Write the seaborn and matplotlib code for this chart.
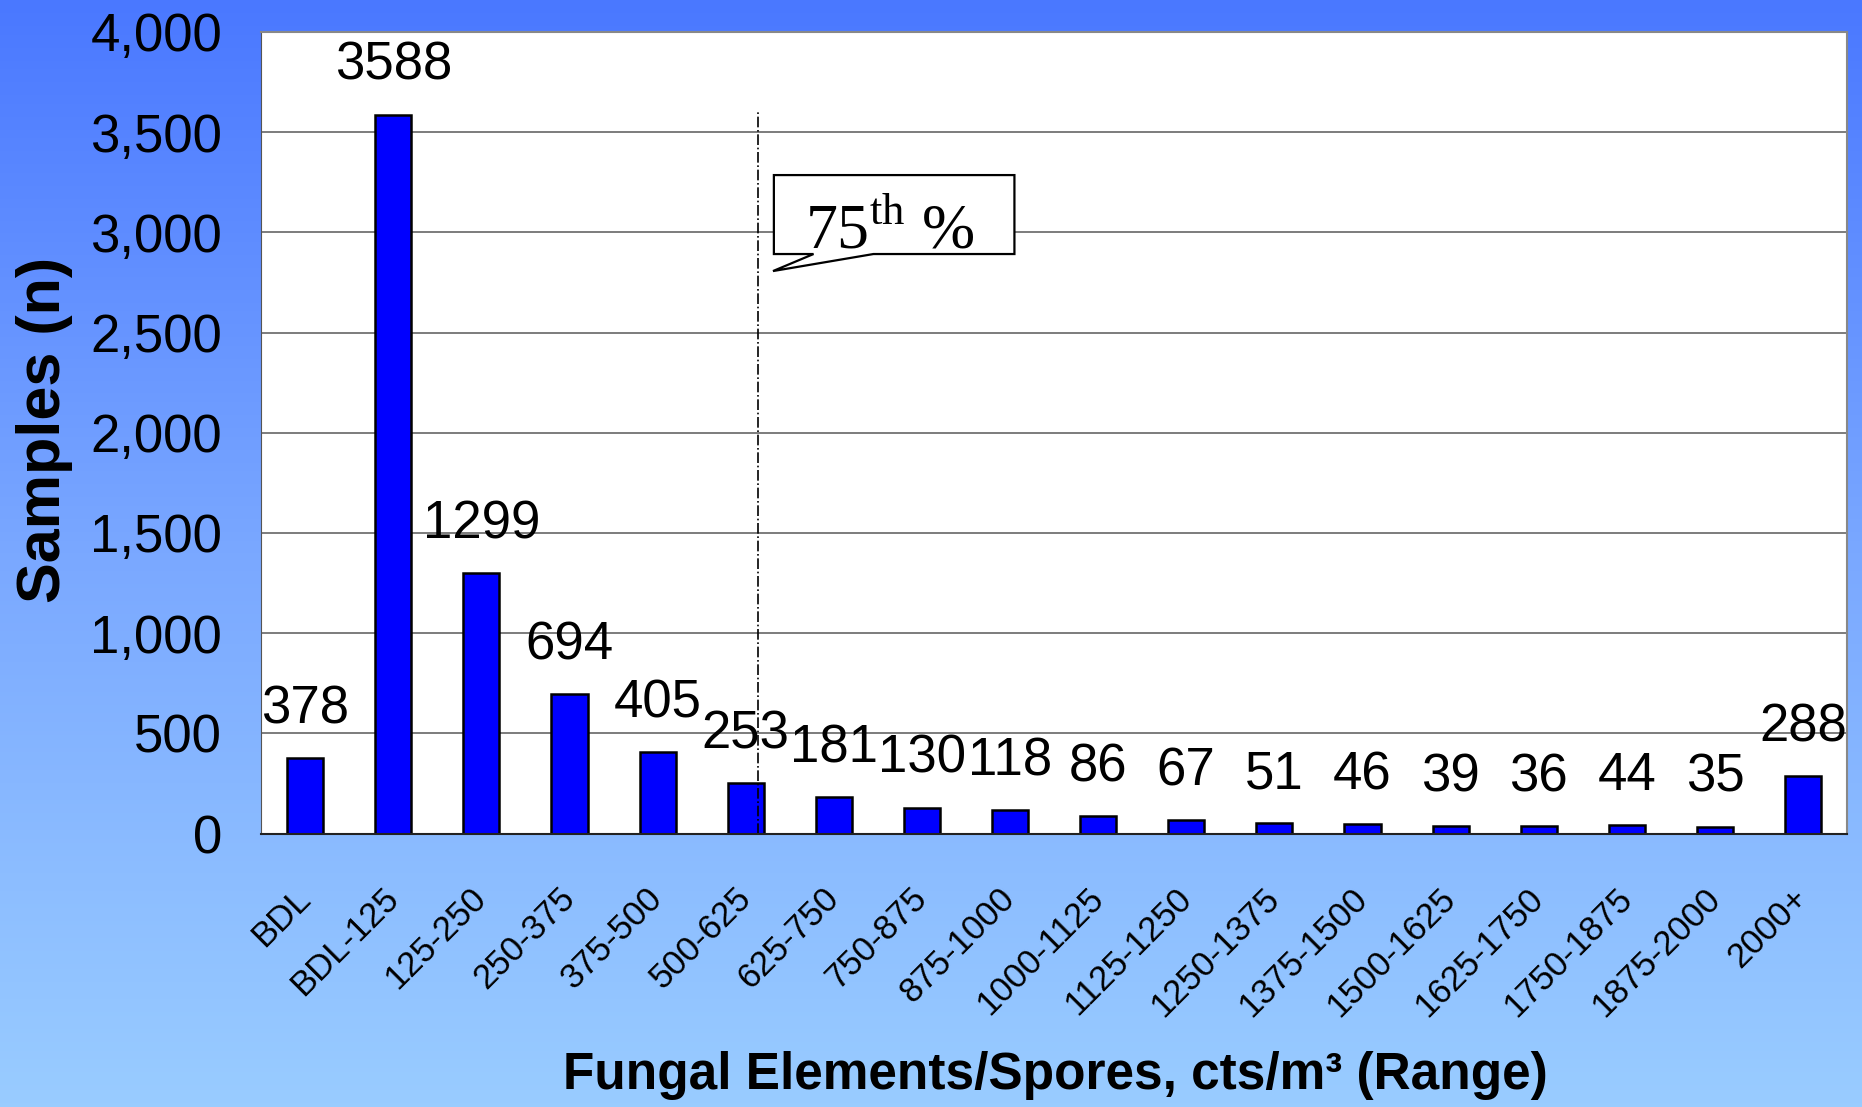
import numpy as np
import pandas as pd
import matplotlib
matplotlib.use('Agg')
import matplotlib.pyplot as plt
import seaborn as sns
from matplotlib.colors import LinearSegmentedColormap
from matplotlib.patches import Polygon

# data
categories = ['BDL', 'BDL-125', '125-250', '250-375', '375-500', '500-625',
              '625-750', '750-875', '875-1000', '1000-1125', '1125-1250',
              '1250-1375', '1375-1500', '1500-1625', '1625-1750', '1750-1875',
              '1875-2000', '2000+']
samples = [378, 3588, 1299, 694, 405, 253, 181, 130, 118, 86, 67, 51, 46, 39,
           36, 44, 35, 288]
y_ticks = [0, 500, 1000, 1500, 2000, 2500, 3000, 3500, 4000]

# 75th percentile marker and its callout (in category / count units)
pct75_x = 5.14
pct75_top = 3600
box_x = (5.32, 8.05)
box_y = (2892, 3286)
tail_base = (5.77, 6.45)
tail_tip = (5.31, 2807)

sns.set_style('white')
sans = ['Liberation Sans Narrow', 'Liberation Sans', 'DejaVu Sans']
plt.rcParams['font.family'] = sans
plt.rcParams['text.color'] = 'black'
plt.rcParams['axes.labelcolor'] = 'black'
plt.rcParams['xtick.color'] = 'black'
plt.rcParams['ytick.color'] = 'black'
plt.rcParams['mathtext.fontset'] = 'custom'
plt.rcParams['mathtext.rm'] = 'Liberation Serif'

fig = plt.figure(figsize=(18.62, 11.07), dpi=100)

# gradient backdrop
bg = fig.add_axes([0, 0, 1, 1], zorder=-10)
grad = np.linspace(0, 1, 256)[:, None]
cmap = LinearSegmentedColormap.from_list('bg', ['#4a78ff', '#7aa8ff', '#99ccff'])
bg.imshow(grad, aspect='auto', cmap=cmap, extent=[0, 1, 0, 1])
bg.axis('off')

ax = fig.add_axes([0.1402, 0.2470, 0.8518, 0.7241])
ax.set_facecolor('white')

df = pd.DataFrame({'range': categories, 'n': samples})
sns.barplot(data=df, x='range', y='n', color='#0000ff', saturation=1,
            edgecolor='black', linewidth=1.8, width=0.41, errorbar=None, ax=ax)

ax.set_xlim(-0.5, len(categories) - 0.5)
ax.set_ylim(0, 4000)
ax.set_xlabel('')
ax.set_ylabel('')

ax.yaxis.grid(True, color='#666666', lw=1.2)
ax.set_axisbelow(True)
for side in ['top', 'right']:
    ax.spines[side].set_color('#888888')
    ax.spines[side].set_linewidth(1.5)
ax.spines['left'].set_color('#555555')
ax.spines['bottom'].set_color('#222222')
ax.spines['bottom'].set_linewidth(1.5)

ax.set_yticks(y_ticks)
ax.set_yticklabels([f'{v:,}' for v in y_ticks], fontsize=38)
ax.tick_params(axis='y', length=12, width=1.2, pad=16, color='#333333')

ax.set_xticks(range(len(categories)))
ax.set_xticklabels(categories, fontsize=25)
ax.set_xticks(np.arange(-0.5, len(categories)), minor=True)
ax.tick_params(axis='x', which='major', length=0, pad=43)
ax.tick_params(axis='x', which='minor', length=10, width=1.2, color='#333333')
plt.setp(ax.get_xticklabels(), rotation=45, ha='right', va='center',
         rotation_mode='anchor')

for i, v in enumerate(samples):
    ax.annotate(str(v), (i, v), xytext=(0, 25), textcoords='offset points',
                ha='center', va='baseline', fontsize=38)

ax.plot([pct75_x, pct75_x], [0, pct75_top], ls='-.', color='black', lw=1.2)

callout = Polygon([(box_x[0], box_y[1]), (box_x[1], box_y[1]),
                   (box_x[1], box_y[0]), (tail_base[1], box_y[0]),
                   tail_tip, (tail_base[0], box_y[0]), (box_x[0], box_y[0])],
                  closed=True, facecolor='white', edgecolor='black', lw=1.6,
                  zorder=5)
ax.add_patch(callout)
ax.text(6.64, 2922, '75$^{\\rm th}$ %', family=['Liberation Serif', 'DejaVu Serif'],
        fontsize=46, ha='center', va='baseline', zorder=6)

fig.text(45 / 1862, 1 - 430 / 1107, 'Samples (n)', rotation=90, ha='center',
         va='center', fontsize=44, fontweight='bold',
         family=['Liberation Sans', 'DejaVu Sans'])
fig.text(1055 / 1862, 1 - 1075 / 1107, 'Fungal Elements/Spores, cts/m³ (Range)',
         ha='center', va='center', fontsize=37, fontweight='bold')

fig.savefig('out.png', dpi=100)
